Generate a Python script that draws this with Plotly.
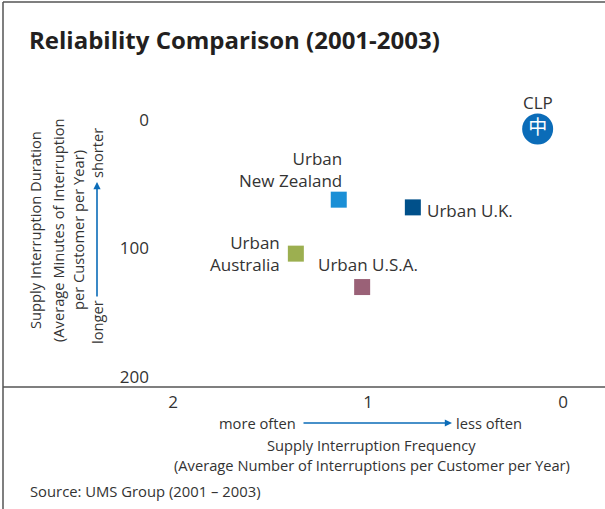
import plotly.graph_objects as go

# ---------------- data ----------------
regions = ["Urban\nNew Zealand", "Urban U.K.", "Urban\nAustralia", "Urban U.S.A."]
frequency = [1.15, 0.77, 1.37, 1.03]          # interruptions per customer per year
duration = [62, 68, 104, 130]                  # minutes per customer per year
colors = ["#1a8fd6", "#00508a", "#9caf50", "#9a6177"]

clp_name = "CLP"
clp_frequency = [0.13]
clp_duration = [7]

x_ticks = [2, 1, 0]
y_ticks = [0, 100, 200]

# ---------------- layout geometry ----------------
W, H = 605, 509
L, R, T, B = 150, 5, 70, 122
PW, PH = W - L - R, H - T - B


def px(x):
    return (x - L) / PW


def py(y):
    return 1 - (y - T) / PH


TXT = "#333333"
FONT = "Open Sans"
BLUE = "#0b6cb8"
AX_FS = 14.7
LAB_FS = 17

fig = go.Figure()

# region squares
fig.add_trace(go.Scatter(
    x=frequency, y=duration, mode="markers",
    marker=dict(symbol="square", size=16, color=colors, line=dict(width=0)),
    hoverinfo="skip", showlegend=False, cliponaxis=False,
))

# CLP logo (circle with glyph)
fig.add_trace(go.Scatter(
    x=clp_frequency, y=clp_duration, mode="markers+text",
    marker=dict(symbol="circle", size=31, color=BLUE, line=dict(width=0)),
    text=["中"], textposition="middle center",
    textfont=dict(family="Noto Sans CJK SC", size=19, color="white"),
    hoverinfo="skip", showlegend=False, cliponaxis=False,
))

# labels for points
label_pos = {
    0: dict(xanchor="right", yanchor="bottom", xshift=5, yshift=6, align="right"),
    1: dict(xanchor="left", yanchor="middle", xshift=12, yshift=-3, align="left"),
    2: dict(xanchor="right", yanchor="middle", xshift=-14, yshift=0, align="right"),
    3: dict(xanchor="center", yanchor="bottom", xshift=6, yshift=9, align="center"),
}
for i, name in enumerate(regions):
    p = label_pos[i]
    fig.add_annotation(
        x=frequency[i], y=duration[i], xref="x", yref="y",
        text=name.replace("\n", "<br>"), showarrow=False,
        font=dict(family=FONT, size=LAB_FS, color=TXT), **p,
    )
fig.add_annotation(
    x=clp_frequency[0], y=clp_duration[0], xref="x", yref="y",
    text=clp_name, showarrow=False, xanchor="center", yanchor="bottom",
    yshift=13, font=dict(family=FONT, size=LAB_FS, color=TXT),
)

annos = []
# title
annos.append(dict(x=px(27), y=py(40), text="<b>Reliability Comparison (2001-2003)</b>",
                  xanchor="left", yanchor="middle",
                  font=dict(family=FONT, size=24, color="#231f20")))
# y-axis title (rotated)
for xc, t in [(35, "Supply Interruption Duration"),
              (58, "(Average Minutes of Interruption"),
              (78, "per Customer per Year)")]:
    annos.append(dict(x=px(xc), y=py(230), text=t, textangle=-90,
                      xanchor="center", yanchor="middle",
                      font=dict(family=FONT, size=AX_FS, color=TXT)))
annos.append(dict(x=px(97), y=py(322), text="longer", textangle=-90,
                  xanchor="center", yanchor="middle",
                  font=dict(family=FONT, size=AX_FS, color=TXT)))
annos.append(dict(x=px(97), y=py(153), text="shorter", textangle=-90,
                  xanchor="center", yanchor="middle",
                  font=dict(family=FONT, size=AX_FS, color=TXT)))
# y arrow (head at top)
annos.append(dict(x=px(97), y=py(182), ax=0, ay=298 - 182, axref="pixel", ayref="pixel",
                  text="", showarrow=True, arrowhead=2, arrowsize=0.9, arrowwidth=1.6,
                  arrowcolor=BLUE))
# x-axis texts
annos.append(dict(x=px(298), y=py(423), text="more often", xanchor="right", yanchor="middle",
                  font=dict(family=FONT, size=AX_FS, color=TXT)))
annos.append(dict(x=px(454), y=py(423), text="less often", xanchor="left", yanchor="middle",
                  font=dict(family=FONT, size=AX_FS, color=TXT)))
annos.append(dict(x=px(452), y=py(423), ax=302 - 452, ay=0, axref="pixel", ayref="pixel",
                  text="", showarrow=True, arrowhead=2, arrowsize=0.9, arrowwidth=1.6,
                  arrowcolor=BLUE))
annos.append(dict(x=px(371), y=py(445), text="Supply Interruption Frequency",
                  xanchor="center", yanchor="middle",
                  font=dict(family=FONT, size=AX_FS, color=TXT)))
annos.append(dict(x=px(372), y=py(465),
                  text="(Average Number of Interruptions per Customer per Year)",
                  xanchor="center", yanchor="middle",
                  font=dict(family=FONT, size=AX_FS, color=TXT)))
annos.append(dict(x=px(28), y=py(491), text="Source: UMS Group (2001 \u2013 2003)",
                  xanchor="left", yanchor="middle",
                  font=dict(family=FONT, size=14.8, color=TXT)))
for a in annos:
    a.setdefault("xref", "paper")
    a.setdefault("yref", "paper")
    a.setdefault("showarrow", False)
    fig.add_annotation(**a)

# frame lines
line = dict(color="#555555", width=1.5)
shapes = [
    dict(type="line", xref="paper", yref="paper", x0=px(3), x1=px(3), y0=py(2), y1=py(509), line=line),
    dict(type="line", xref="paper", yref="paper", x0=px(3), x1=px(605), y0=py(2), y1=py(2), line=line),
    dict(type="line", xref="paper", yref="paper", x0=px(3), x1=px(605), y0=py(387), y1=py(387), line=line),
]

# axis ranges derived from pixel geometry
x_at_left = (563 - L) / 195
x_at_right = (563 - (W - R)) / 195
y_at_top = (T - 120) / 1.285
y_at_bottom = (H - B - 120) / 1.285

fig.update_layout(
    width=W, height=H,
    margin=dict(l=L, r=R, t=T, b=B, pad=0),
    paper_bgcolor="white", plot_bgcolor="white",
    shapes=shapes,
    xaxis=dict(range=[x_at_left, x_at_right], tickvals=x_ticks, ticktext=[str(v) for v in x_ticks],
               showgrid=False, zeroline=False, showline=False, ticks="",
               tickfont=dict(family=FONT, size=17, color=TXT), ticklabelstandoff=3),
    yaxis=dict(range=[y_at_bottom, y_at_top], tickvals=y_ticks, ticktext=[str(v) for v in y_ticks],
               showgrid=False, zeroline=False, showline=False, ticks="",
               tickfont=dict(family=FONT, size=17, color=TXT), ticklabelstandoff=0),
    font=dict(family=FONT, color=TXT),
)

fig.write_html("out.html", config={"displayModeBar": False},
               post_script="document.body.style.margin='0';")
